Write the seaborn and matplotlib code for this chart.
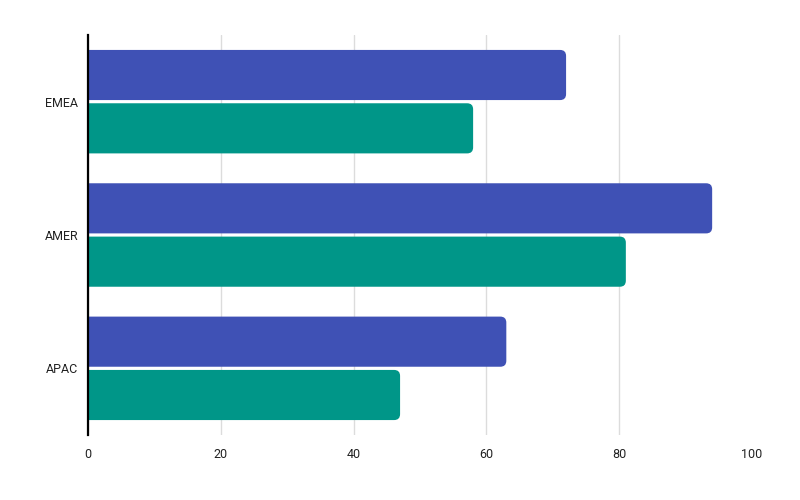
import pandas as pd
import numpy as np
import seaborn as sns
import matplotlib.pyplot as plt
from matplotlib.patches import FancyBboxPatch

# Datos
regiones = ["EMEA", "AMER", "APAC"]
serie_1 = [72, 94, 63]
serie_2 = [58, 81, 47]
colores = ["#3F51B5", "#009688"]

df = pd.DataFrame({
    "region": regiones * 2,
    "valor": serie_1 + serie_2,
    "serie": ["Serie 1"] * 3 + ["Serie 2"] * 3,
})

sns.set_style("white")
plt.rcParams["font.family"] = ["Roboto", "DejaVu Sans"]

fig = plt.figure(figsize=(8, 5), dpi=100)
ax = fig.add_axes([0.11, 0.13, 0.83, 0.80])

sns.barplot(data=df, y="region", x="valor", hue="serie", order=regiones,
            palette=colores, width=0.8, gap=0.06, legend=False, ax=ax,
            errorbar=None, saturation=1)

ax.set_xlim(0, 100)
ax.set_ylim(2.5, -0.5)
ax.set_xticks([0, 20, 40, 60, 80, 100])
ax.grid(axis="x", color="#dcdcdc", linewidth=1)
ax.get_xgridlines()[-1].set_visible(False)
ax.set_axisbelow(True)
for s in ["top", "right", "bottom"]:
    ax.spines[s].set_visible(False)
ax.spines["left"].set_color("black")
ax.spines["left"].set_linewidth(1.6)
ax.spines["left"].set_zorder(5)
ax.tick_params(axis="y", length=0, labelsize=9, colors="#222222", pad=7)
ax.tick_params(axis="x", length=0, labelsize=9, colors="#222222", pad=9)
ax.set_xlabel("")
ax.set_ylabel("")

# Redondear solo el extremo derecho de cada barra (el izquierdo queda recortado por el eje)
fig.canvas.draw()
px_x = 100 / (ax.get_window_extent().width)
px_y = 3 / (ax.get_window_extent().height)
radio = 6 * px_x
aspecto = px_y / px_x
for p in list(ax.patches):
    x0, y0, w, h = p.get_x(), p.get_y(), p.get_width(), p.get_height()
    if w <= 0:
        continue
    c = p.get_facecolor()
    p.remove()
    ax.add_patch(FancyBboxPatch((x0 - 3 * radio, y0), w + 3 * radio, h,
                                boxstyle=f"round,pad=0,rounding_size={radio}",
                                mutation_aspect=aspecto, facecolor=c,
                                edgecolor="none", zorder=3))

plt.savefig("out.png", dpi=100)
plt.close()
